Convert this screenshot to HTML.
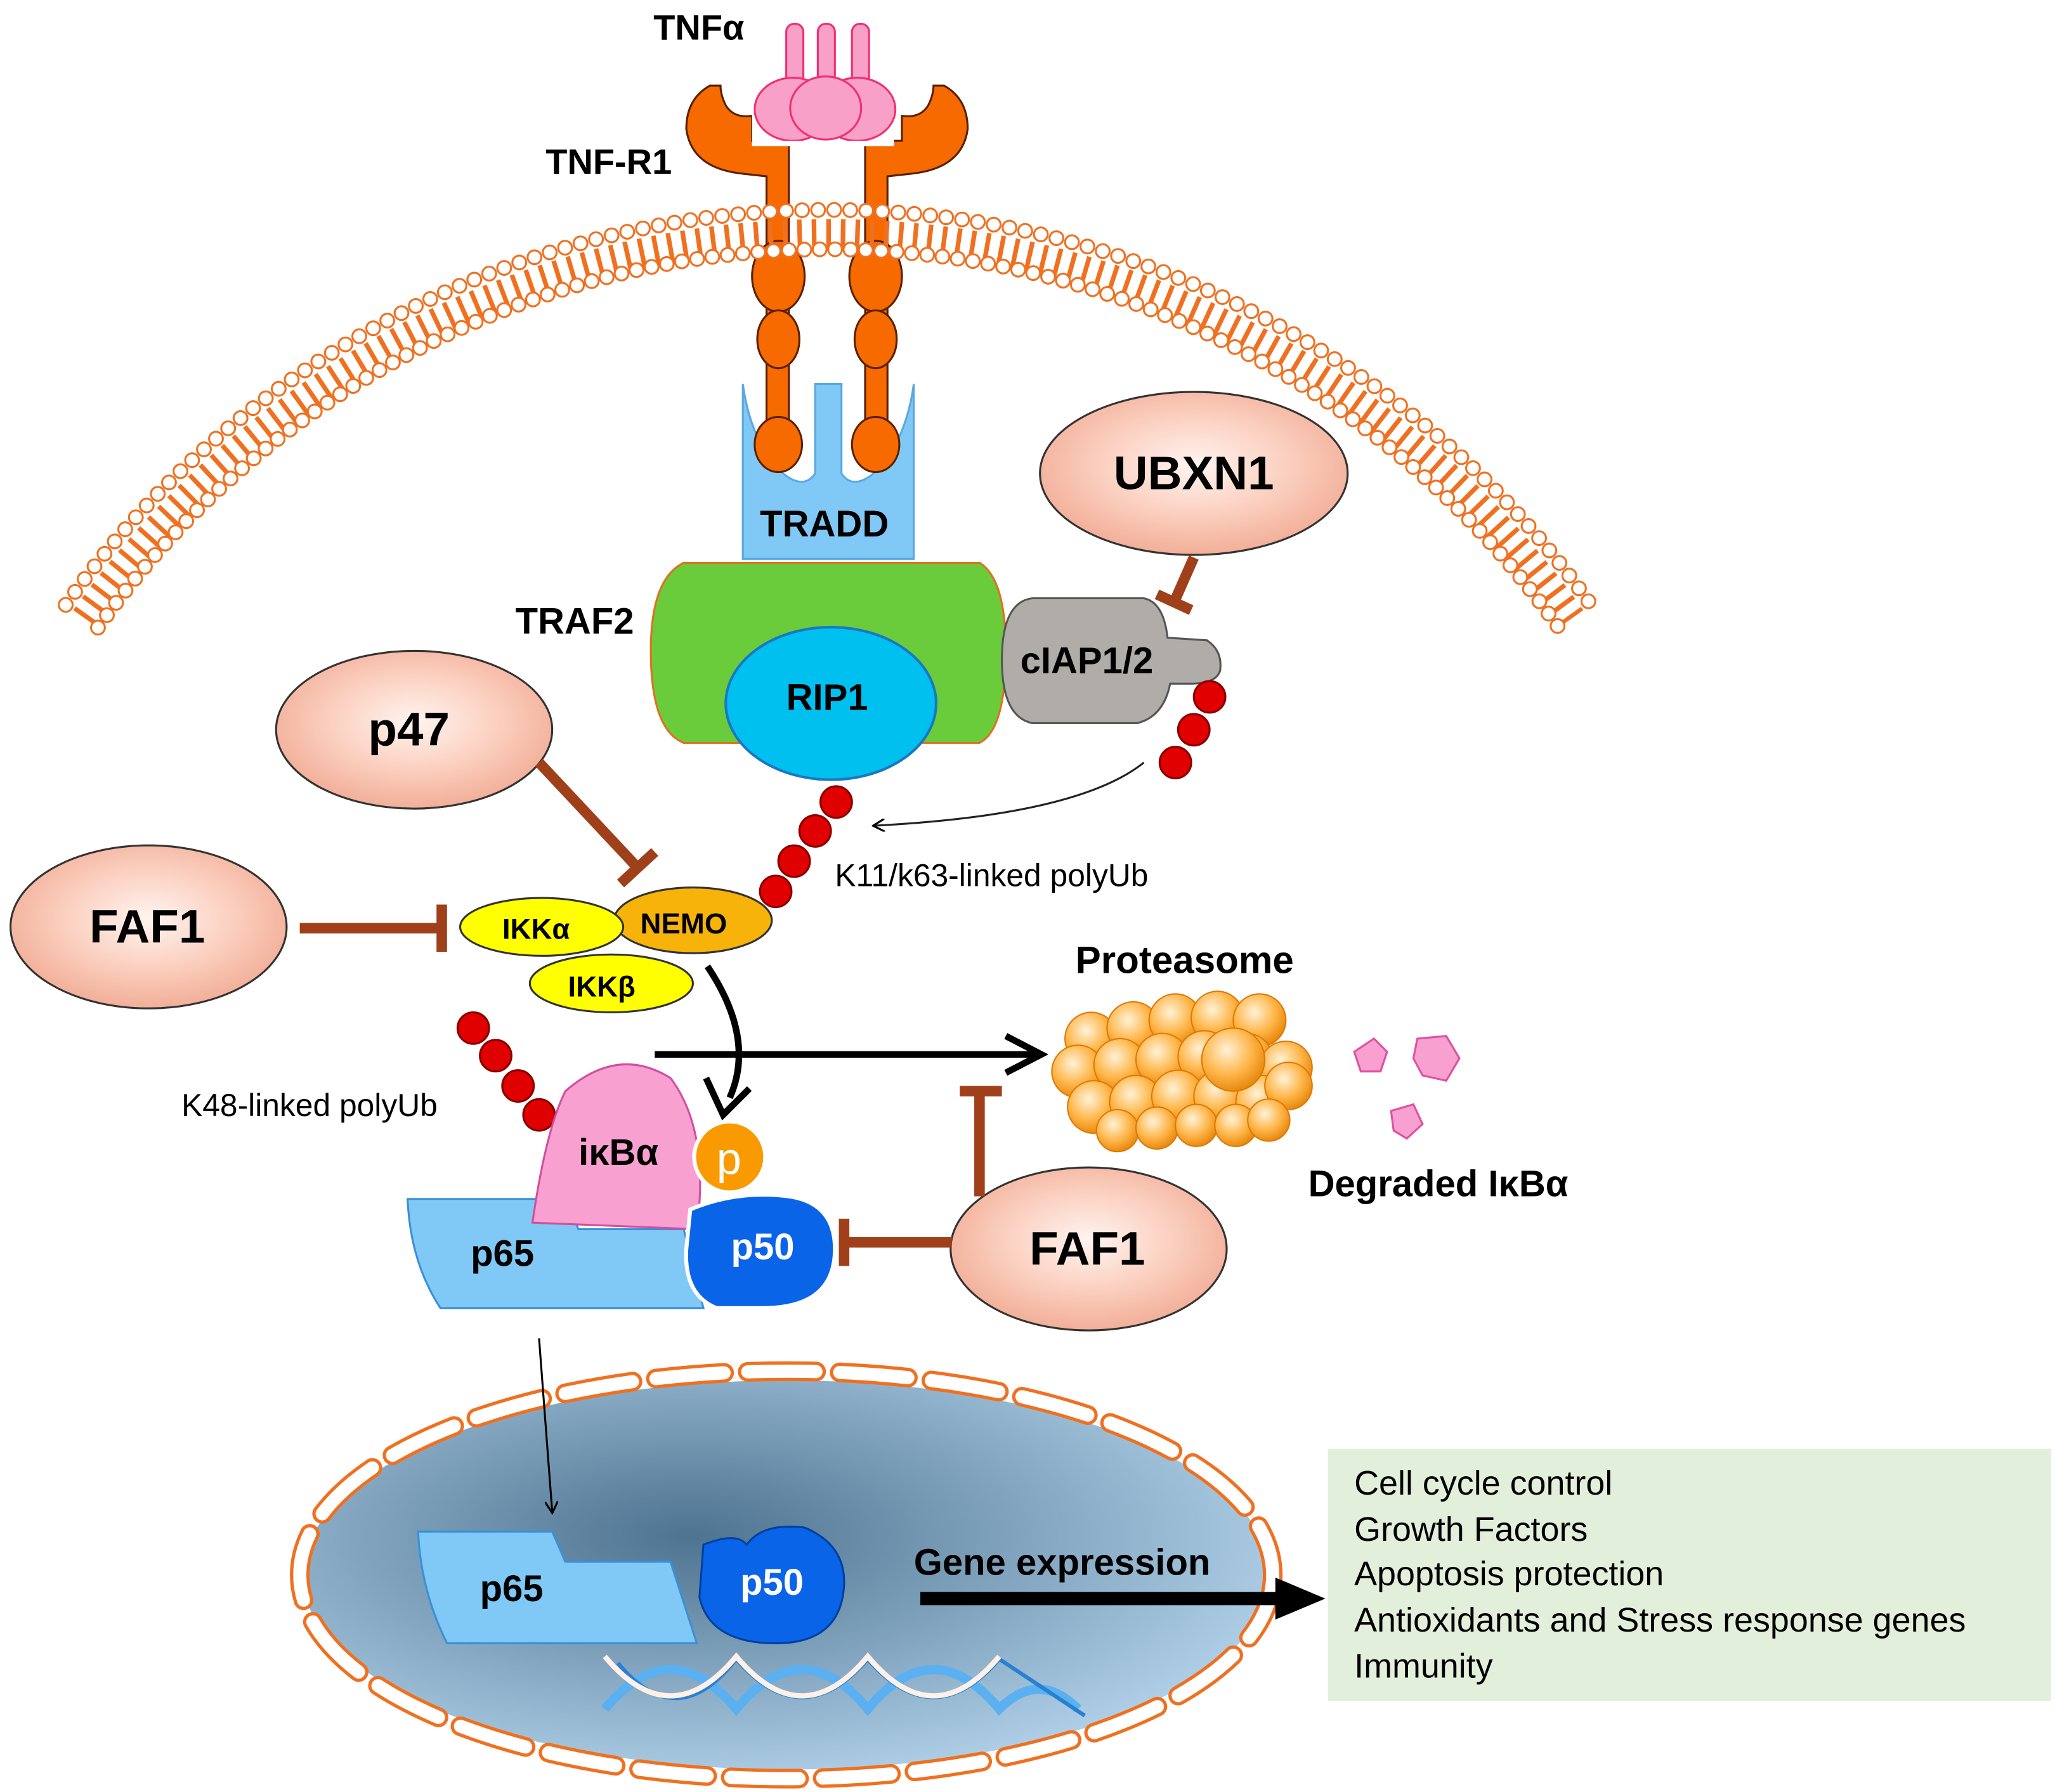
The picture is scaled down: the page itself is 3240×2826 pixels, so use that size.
<!DOCTYPE html>
<html><head><meta charset="utf-8"><style>
html,body{margin:0;padding:0;background:#fff}
svg{display:block}
text{font-family:"Liberation Sans",Arial,sans-serif}
</style></head><body>
<svg width="3240" height="2826" viewBox="0 0 1563 1363" xmlns="http://www.w3.org/2000/svg">
<defs>
<radialGradient id="sal" cx="50%" cy="45%" r="60%">
<stop offset="0" stop-color="#fff4f0"/><stop offset="0.5" stop-color="#fbd0c0"/><stop offset="1" stop-color="#f0a890"/></radialGradient>
<radialGradient id="nuc" cx="40%" cy="40%" r="65%">
<stop offset="0" stop-color="#4e7390"/><stop offset="1" stop-color="#b0d0e8"/></radialGradient>
<radialGradient id="ball" cx="40%" cy="35%" r="65%">
<stop offset="0" stop-color="#fff2d8"/><stop offset="0.6" stop-color="#ffb64a"/><stop offset="1" stop-color="#e88a10"/></radialGradient>
<marker id="ah" markerWidth="10" markerHeight="10" refX="8" refY="5" orient="auto" markerUnits="userSpaceOnUse"><path d="M0,0 L9,5 L0,10" fill="none" stroke="#000" stroke-width="1.5"/></marker>
</defs>

<!-- TRADD -->
<path d="M565 292 L565 425 L695 425 L695 292 Q690 330 670 355 Q650 375 640 360 L640 292 L620 292 L620 360 Q610 375 590 355 Q570 330 565 292Z" fill="#80c8f5" stroke="#5aa8e0" stroke-width="1.5"/>
<!-- TRAF2 -->
<path d="M520 428 L745 428 Q765 440 765 495 Q765 555 745 565 L520 565 Q495 555 495 495 Q495 440 520 428Z" fill="#6acc3a" stroke="#e07020" stroke-width="1.5"/>
<ellipse cx="632" cy="535" rx="80" ry="58" fill="#00c0f0" stroke="#1a78c0" stroke-width="2"/>
<!-- cIAP -->
<path d="M785 455 L870 455 Q885 458 888 485 L918 487 Q930 495 928 510 Q925 520 905 520 L890 520 Q885 545 865 550 L785 550 Q762 545 762 502 Q762 458 785 455Z" fill="#b0aca8" stroke="#555" stroke-width="1.5"/>

<!-- receptors -->
<g fill="#f66a00" stroke="#5a2000" stroke-width="1.5">
<g id="rec">
<path d="M572 88 Q558 90 552 80 Q548 72 548 65 L540 65 Q522 75 522 98 Q526 128 565 132 L583 134 L583 330 L600 330 L600 107 L572 107 Z"/>
<ellipse cx="592" cy="210" rx="20" ry="27"/><ellipse cx="592" cy="258" rx="16" ry="22"/><ellipse cx="592" cy="338" rx="18" ry="21"/>
</g>
<use href="#rec" transform="translate(1258,0) scale(-1,1)"/>
</g>

<!-- membrane -->
<path d="M64.7 470.4 A692 692 0 0 1 1195.3 470.4" fill="none" stroke="#f07020" stroke-width="22" stroke-dasharray="3.5 7.5"/>
<path d="M50 460 A710 710 0 0 1 1210 460" fill="none" stroke="#f07020" stroke-width="12" stroke-linecap="round" stroke-dasharray="0 12.2"/>
<path d="M50 460 A710 710 0 0 1 1210 460" fill="none" stroke="#fff" stroke-width="9" stroke-linecap="round" stroke-dasharray="0 12.2"/>
<path d="M74.5 477.3 A680 680 0 0 1 1185.5 477.3" fill="none" stroke="#f07020" stroke-width="12" stroke-linecap="round" stroke-dasharray="0 11.7"/>
<path d="M74.5 477.3 A680 680 0 0 1 1185.5 477.3" fill="none" stroke="#fff" stroke-width="9" stroke-linecap="round" stroke-dasharray="0 11.7"/>

<rect x="572" y="87" width="108" height="20" fill="#fff"/>
<!-- TNFa -->
<g fill="#f8a0c8" stroke="#f03070" stroke-width="1.5">
<rect x="598" y="18" width="13" height="55" rx="6"/><rect x="622" y="18" width="13" height="55" rx="6"/><rect x="648" y="18" width="13" height="55" rx="6"/>
<ellipse cx="603" cy="83" rx="29" ry="24"/><ellipse cx="652" cy="83" rx="29" ry="24"/><ellipse cx="628" cy="82" rx="27" ry="24"/>
</g>
<rect x="572" y="107" width="108" height="4" fill="#fff"/>
<text x="497" y="30" font-size="27" font-weight="bold">TNFα</text>
<text x="415" y="132" font-size="27" font-weight="bold">TNF-R1</text>
<text x="578" y="408" font-size="28" font-weight="bold">TRADD</text>
<text x="392" y="482" font-size="28" font-weight="bold">TRAF2</text>
<text x="598" y="540" font-size="28" font-weight="bold">RIP1</text>
<text x="776" y="512" font-size="28" font-weight="bold">cIAP1/2</text>

<!-- Ub chains -->
<g fill="#e00000" stroke="#800" stroke-width="1.5">
<circle cx="920" cy="530" r="12"/><circle cx="908" cy="555" r="12"/><circle cx="894" cy="580" r="12"/>
<circle cx="636" cy="610" r="12"/><circle cx="620" cy="632" r="12"/><circle cx="604" cy="655" r="12"/><circle cx="590" cy="678" r="12"/>
<circle cx="360" cy="782" r="12"/><circle cx="377" cy="803" r="12"/><circle cx="394" cy="826" r="12"/><circle cx="410" cy="848" r="12"/>
</g>
<path d="M870 580 Q820 620 665 628" fill="none" stroke="#222" stroke-width="1.5" marker-end="url(#ah)"/>
<text x="635" y="674" font-size="24">K11/k63-linked polyUb</text>
<text x="138" y="849" font-size="24">K48-linked polyUb</text>

<!-- ellipses -->
<g stroke="#333" stroke-width="1.5" fill="url(#sal)">
<ellipse cx="908" cy="360" rx="117" ry="62"/>
<ellipse cx="315" cy="555" rx="105" ry="60"/>
<ellipse cx="113" cy="705" rx="105" ry="62"/>
<ellipse cx="828" cy="950" rx="105" ry="62"/>
</g>
<g font-weight="bold" font-size="36">
<text x="847" y="372">UBXN1</text><text x="280" y="567">p47</text><text x="68" y="717">FAF1</text><text x="783" y="962">FAF1</text>
</g>

<!-- inhibitors -->
<g stroke="#a0401a" stroke-width="8" fill="none">
<path d="M908 424 L893 458 M880 452 L906 464"/>
<path d="M410 580 L485 660 M472 672 L498 648"/>
<path d="M228 706 L335 706 M336 688 L336 724"/>
<path d="M724 945 L642 945 M642 927 L642 963"/>
<path d="M745 910 L745 830 M730 830 L762 830"/>
</g>

<!-- IKK -->
<g stroke="#333" stroke-width="1.5">
<ellipse cx="527" cy="700" rx="60" ry="25" fill="#f7b30a"/>
<ellipse cx="412" cy="705" rx="62" ry="22" fill="#ffff00"/>
<ellipse cx="465" cy="748" rx="62" ry="22" fill="#ffff00"/>
</g>
<text x="382" y="714" font-size="22" font-weight="bold">IKKα</text>
<text x="487" y="710" font-size="22" font-weight="bold">NEMO</text>
<text x="432" y="758" font-size="22" font-weight="bold">IKKβ</text>

<!-- arrows -->
<path d="M538 735 Q575 790 555 835" fill="none" stroke="#000" stroke-width="5"/>
<path d="M537 820 L550 848 L570 828" fill="none" stroke="#000" stroke-width="5"/>
<path d="M498 802 L790 802" stroke="#000" stroke-width="5"/>
<path d="M765 788 L792 802 L765 816" fill="none" stroke="#000" stroke-width="5"/>

<!-- IkBa complex -->
<path d="M310 912 L430 912 L440 935 L520 935 L535 995 L335 995 Q312 960 310 912Z" fill="#80c8f5" stroke="#3a90d8" stroke-width="1.5"/>
<path d="M405 930 Q415 860 430 830 Q470 795 510 820 Q540 860 530 935 Z" fill="#f8a0d0" stroke="#d050a0" stroke-width="1.5"/>
<path d="M525 920 Q560 905 600 910 Q635 915 635 950 Q635 995 580 995 L545 995 Q520 985 522 950 Z" fill="#0a64e8" stroke="#fff" stroke-width="3"/>
<circle cx="555" cy="880" r="27" fill="#f89a00" stroke="#fff" stroke-width="3"/>
<text x="545" y="893" font-size="34" fill="#fff">p</text>
<text x="440" y="886" font-size="28" font-weight="bold">iκBα</text>
<text x="358" y="963" font-size="28" font-weight="bold">p65</text>
<text x="556" y="958" font-size="28" font-weight="bold" fill="#fff">p50</text>

<!-- proteasome -->
<g stroke="#e07800" stroke-width="1" fill="url(#ball)">
<circle cx="830" cy="790" r="20"/><circle cx="862" cy="782" r="20"/><circle cx="894" cy="776" r="20"/><circle cx="926" cy="774" r="20"/><circle cx="958" cy="776" r="20"/>
<circle cx="820" cy="815" r="20"/><circle cx="852" cy="810" r="20"/><circle cx="884" cy="806" r="20"/><circle cx="916" cy="804" r="20"/><circle cx="948" cy="806" r="20"/><circle cx="978" cy="812" r="20"/>
<circle cx="832" cy="842" r="20"/><circle cx="864" cy="838" r="20"/><circle cx="896" cy="834" r="20"/><circle cx="928" cy="834" r="20"/><circle cx="960" cy="838" r="20"/><circle cx="980" cy="826" r="18"/>
<circle cx="850" cy="860" r="16"/><circle cx="880" cy="858" r="16"/><circle cx="910" cy="856" r="16"/><circle cx="940" cy="856" r="16"/><circle cx="965" cy="852" r="16"/>
<circle cx="938" cy="806" r="24"/>
</g>
<text x="818" y="740" font-size="29" font-weight="bold">Proteasome</text>
<g fill="#f8a0d0" stroke="#e050a0" stroke-width="1.5">
<path d="M1030 800 L1045 790 L1055 800 L1050 815 L1035 815Z"/>
<path d="M1078 790 L1100 788 L1110 805 L1100 822 L1082 818 L1075 805Z"/>
<path d="M1058 845 L1075 840 L1082 855 L1070 866 L1060 860Z"/>
</g>
<text x="995" y="910" font-size="28" font-weight="bold">Degraded IκBα</text>

<!-- nucleus -->
<ellipse cx="598" cy="1198" rx="368" ry="148" fill="url(#nuc)"/>
<ellipse cx="598" cy="1198" rx="370" ry="155" fill="none" stroke="#f07020" stroke-width="15" stroke-linecap="round" stroke-dasharray="52 18"/>
<ellipse cx="598" cy="1198" rx="370" ry="155" fill="none" stroke="#fff" stroke-width="10" stroke-linecap="round" stroke-dasharray="52 18"/>
<path d="M410 1018 L420 1150" stroke="#000" stroke-width="1.5" marker-end="url(#ah)"/>
<!-- DNA -->
<g fill="none" stroke-width="7">
<path d="M460 1300 Q510 1240 560 1300 Q610 1240 660 1300 Q710 1240 760 1300 Q790 1270 820 1300" stroke="#5ab0f0"/>
<path d="M470 1265 Q515 1320 560 1262 Q610 1320 660 1262 Q710 1320 760 1262 Q795 1285 825 1305" stroke="#2a80d0" stroke-width="3"/>
<path d="M460 1260 Q510 1320 560 1260 Q610 1320 660 1260 Q710 1320 760 1260" stroke="#fff0e8" stroke-width="4"/>
</g>
<path d="M318 1165 L420 1165 L430 1188 L510 1188 L530 1250 L340 1250 Q320 1210 318 1165Z" fill="#80c8f5" stroke="#3a90d8" stroke-width="1.5"/>
<path d="M535 1175 Q560 1165 568 1175 Q580 1158 612 1162 Q643 1175 642 1205 Q640 1250 590 1250 Q540 1250 532 1215 Z" fill="#0a64e8" stroke="#0040a0" stroke-width="1.5"/>
<text x="365" y="1218" font-size="28" font-weight="bold">p65</text>
<text x="563" y="1213" font-size="28" font-weight="bold" fill="#fff">p50</text>
<text x="695" y="1198" font-size="28" font-weight="bold">Gene expression</text>
<path d="M700 1216 L975 1216" stroke="#000" stroke-width="10"/>
<path d="M970 1200 L1008 1216 L970 1232Z" fill="#000"/>

<!-- green box -->
<rect x="1010" y="1102" width="550" height="192" fill="#e2efda"/>
<g font-size="26">
<text x="1030" y="1137">Cell cycle control</text>
<text x="1030" y="1172">Growth Factors</text>
<text x="1030" y="1206">Apoptosis protection</text>
<text x="1030" y="1241">Antioxidants  and Stress response genes</text>
<text x="1030" y="1276">Immunity</text>
</g>
</svg>
</body></html>
